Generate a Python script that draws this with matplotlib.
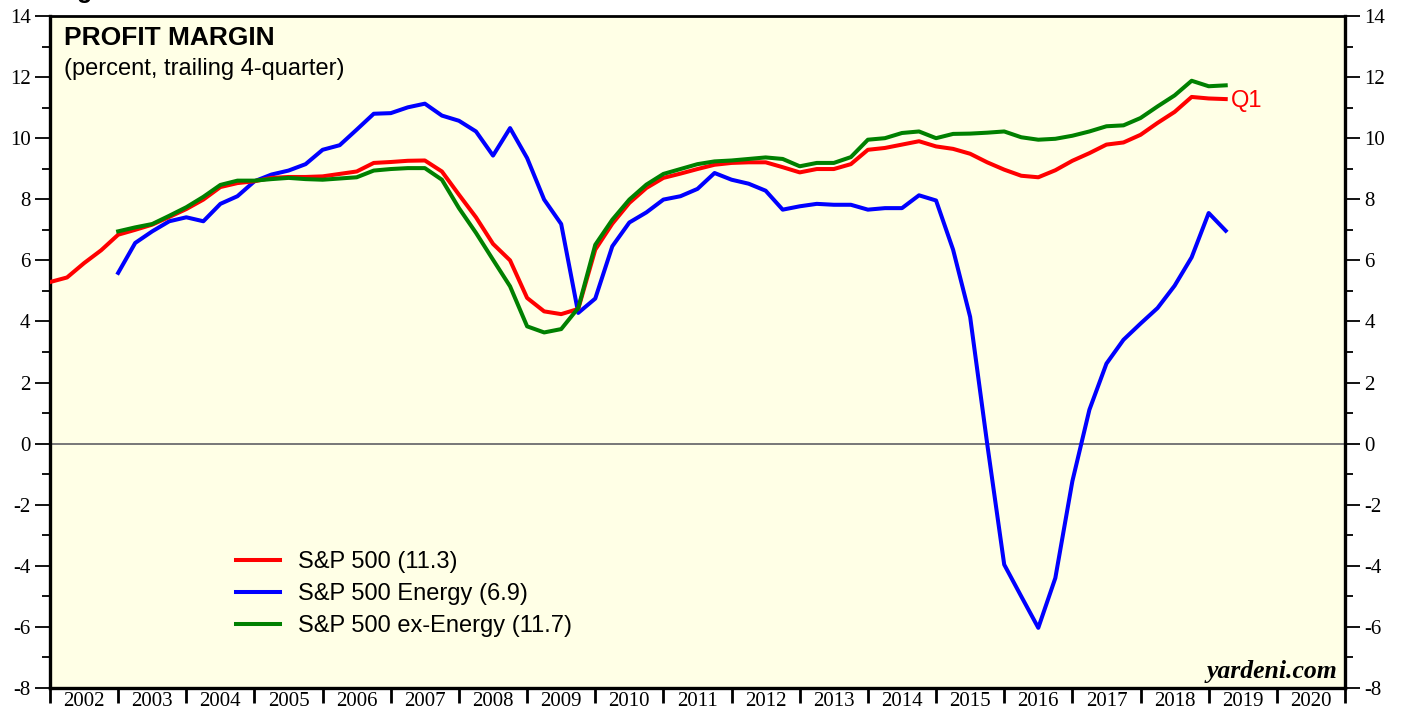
import numpy as np
import matplotlib
matplotlib.use("Agg")
import matplotlib.pyplot as plt
from matplotlib.ticker import MultipleLocator, FixedLocator, NullFormatter, FixedFormatter

plt.rcParams["axes.unicode_minus"] = False

# Quarterly data (trailing 4-quarter profit margin, percent)
sp500_start = 2002.0
sp500 = [5.29, 5.44, 5.91, 6.33,
         6.84, 7.00, 7.17, 7.42,
         7.68, 7.99, 8.40, 8.53,
         8.59, 8.70, 8.73, 8.73,
         8.75, 8.83, 8.91, 9.19,
         9.22, 9.26, 9.27, 8.91,
         8.15, 7.41, 6.54, 6.00,
         4.77, 4.33, 4.24, 4.41,
         6.35, 7.20, 7.88, 8.37,
         8.70, 8.84, 8.99, 9.13,
         9.19, 9.21, 9.21, 9.05,
         8.88, 8.99, 8.99, 9.15,
         9.62, 9.68, 9.79, 9.90,
         9.73, 9.65, 9.49, 9.21,
         8.97, 8.77, 8.72, 8.95,
         9.26, 9.51, 9.79, 9.86,
         10.11, 10.50, 10.86, 11.35,
         11.30, 11.28]

energy_start = 2003.0
energy = [5.59, 6.57, 6.95, 7.28,
          7.41, 7.28, 7.85, 8.10,
          8.59, 8.81, 8.94, 9.15,
          9.62, 9.77, 10.28, 10.80,
          10.82, 11.01, 11.13, 10.74,
          10.57, 10.22, 9.43, 10.33,
          9.35, 7.99, 7.19, 4.28,
          4.75, 6.46, 7.24, 7.57,
          7.99, 8.10, 8.34, 8.86,
          8.64, 8.51, 8.28, 7.66,
          7.77, 7.85, 7.82, 7.82,
          7.66, 7.71, 7.71, 8.13,
          7.96, 6.35, 4.15, 0.00,
          -3.96, -5.00, -6.03, -4.40,
          -1.23, 1.11, 2.62, 3.40,
          3.93, 4.44, 5.17, 6.10,
          7.55, 6.97]

ex_energy_start = 2003.0
ex_energy = [6.95, 7.08, 7.19, 7.46,
             7.74, 8.08, 8.47, 8.61,
             8.61, 8.66, 8.70, 8.66,
             8.64, 8.68, 8.72, 8.94,
             8.99, 9.02, 9.02, 8.64,
             7.71, 6.90, 6.02, 5.15,
             3.84, 3.64, 3.75, 4.44,
             6.51, 7.33, 7.99, 8.48,
             8.83, 8.99, 9.15, 9.24,
             9.27, 9.32, 9.37, 9.32,
             9.08, 9.19, 9.19, 9.38,
             9.95, 10.00, 10.17, 10.22,
             10.00, 10.14, 10.15, 10.18,
             10.22, 10.03, 9.95, 9.98,
             10.08, 10.22, 10.39, 10.42,
             10.66, 11.04, 11.40, 11.88,
             11.70, 11.73]

years = list(range(2002, 2021))
labels = ["S&P 500 (11.3)", "S&P 500 Energy (6.9)", "S&P 500 ex-Energy (11.7)"]


def qx(start, n):
    return start + 0.25 * np.arange(n)


SANS = "Liberation Sans"
SERIF = "Liberation Serif"

fig = plt.figure(figsize=(14.05, 7.19), dpi=100)
ax = fig.add_axes([50 / 1405, 31 / 719, 1295 / 1405, 672 / 719])
ax.set_facecolor("#FFFFE6")

ax.axhline(0, color="#777777", lw=1.4, zorder=1)

lw = 2.9
ax.plot(qx(sp500_start, len(sp500)), sp500, color="#FF0000", lw=lw, label=labels[0], zorder=3)
ax.plot(qx(energy_start, len(energy)), energy, color="#0000FF", lw=lw, label=labels[1], zorder=2)
ax.plot(qx(ex_energy_start, len(ex_energy)), ex_energy, color="#008000", lw=lw, label=labels[2], zorder=4)

ax.set_xlim(2002, 2021)
ax.set_ylim(-8, 14)

# Y axis ticks both sides
ax.yaxis.set_major_locator(MultipleLocator(2))
ax.yaxis.set_minor_locator(MultipleLocator(1))
ax.tick_params(axis="y", which="major", direction="out", length=11, width=1.3,
               labelsize=15, left=True, right=True, labelleft=True, labelright=True, pad=3)
ax.tick_params(axis="y", which="minor", direction="out", length=6, width=1.3,
               left=True, right=True)

# X axis: year boundaries as ticks, labels centred in each year
ax.xaxis.set_major_locator(FixedLocator(list(range(2002, 2022))))
ax.xaxis.set_major_formatter(NullFormatter())
ax.xaxis.set_minor_locator(FixedLocator([y + 0.5 for y in years]))
ax.xaxis.set_minor_formatter(FixedFormatter([str(y) for y in years]))
ax.tick_params(axis="x", which="major", direction="out", length=11, width=2)
ax.tick_params(axis="x", which="minor", length=0, labelsize=15, pad=3)

for t in ax.get_xticklabels(minor=True):
    t.set_fontfamily(SERIF)
for t in ax.yaxis.get_major_ticks():
    t.label1.set_fontfamily(SERIF)
    t.label2.set_fontfamily(SERIF)

for s in ["left", "right", "bottom"]:
    ax.spines[s].set_linewidth(2.4)
ax.spines["top"].set_linewidth(2.0)

# Figure caption clipped at the top edge, as in the reference
fig.text(55 / 1405, 1 + 1.5 / 719, "Figure 5", ha="left", va="baseline",
         fontsize=18, fontweight="bold", fontfamily=SANS)

# Titles
ax.text(0.011, 0.985, "PROFIT MARGIN", transform=ax.transAxes, ha="left", va="top",
        fontsize=19, fontweight="bold", fontfamily=SANS)
ax.text(0.011, 0.937, "(percent, trailing 4-quarter)", transform=ax.transAxes, ha="left", va="top",
        fontsize=17, fontfamily=SANS)

# Q1 annotation at the end of the S&P 500 line
ax.annotate("Q1", xy=(qx(sp500_start, len(sp500))[-1], sp500[-1]), xytext=(4, -1.5),
            textcoords="offset points", ha="left", va="center", color="#FF0000",
            fontsize=17, fontfamily=SANS)

# Source
ax.text(0.994, 0.008, "yardeni.com", transform=ax.transAxes, ha="right", va="bottom",
        fontsize=18.5, fontweight="bold", fontstyle="italic", fontfamily=SERIF)

leg = ax.legend(loc="center left", bbox_to_anchor=(0.144, 0.140), frameon=False,
                prop={"family": SANS, "size": 17}, handlelength=1.85, handletextpad=0.75,
                labelspacing=0.42, borderpad=0, borderaxespad=0)

fig.savefig("out.png", dpi=100, facecolor="white")
